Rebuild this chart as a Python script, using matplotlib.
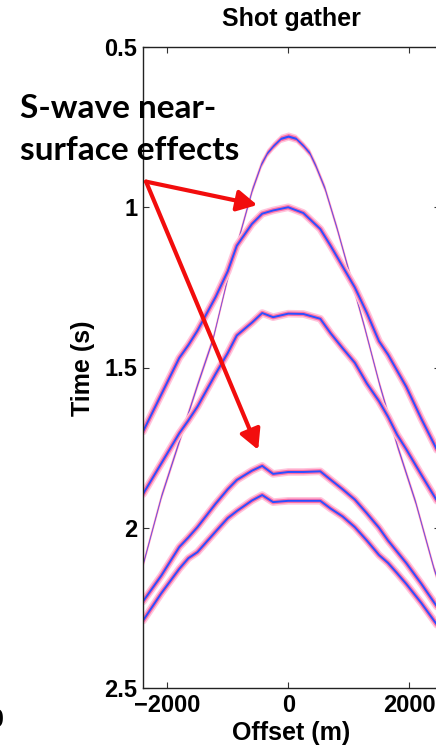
import matplotlib
matplotlib.use('Agg')
import matplotlib.pyplot as plt
from matplotlib.patches import ArrowStyle

# receiver offsets (m) shared by the S-wave reflections
offsets_s = [-2400, -2100, -1800, -1650, -1500, -1200, -1000, -850, -600, -430,
             -250, 0, 250, 530, 700, 900, 1100, 1300, 1500, 1650, 1800, 1950,
             2200, 2600]
# two-way times (s) of the four S-wave events
t_b = [1.70, 1.585, 1.47, 1.43, 1.385, 1.28, 1.20, 1.12, 1.052, 1.02,
       1.01, 1.0, 1.018, 1.068, 1.12, 1.185, 1.25, 1.33, 1.418, 1.46, 1.51,
       1.56, 1.66, 1.81]
t_c = [1.895, 1.80, 1.705, 1.665, 1.622, 1.52, 1.455, 1.40, 1.36, 1.33,
       1.343, 1.332, 1.333, 1.348, 1.393, 1.44, 1.485, 1.55, 1.605, 1.654,
       1.71, 1.755, 1.835, 1.96]
t_d = [2.23, 2.15, 2.06, 2.03, 1.998, 1.925, 1.88, 1.851, 1.822, 1.807,
       1.832, 1.826, 1.826, 1.824, 1.85, 1.88, 1.912, 1.955, 2.0, 2.04,
       2.075, 2.11, 2.175, 2.285]
t_e = [2.29, 2.205, 2.128, 2.095, 2.076, 2.012, 1.97, 1.948, 1.915, 1.898,
       1.92, 1.916, 1.916, 1.916, 1.94, 1.965, 1.998, 2.04, 2.085, 2.11,
       2.142, 2.175, 2.235, 2.34]

# steep shallow event
offsets_a = [-2400, -2100, -1800, -1500, -1250, -1000, -800, -600, -450, -350,
             -250, -125, 0, 125, 250, 350, 450, 600, 800, 1000, 1250, 1500,
             1800, 2100, 2400, 2600]
t_a = [2.11, 1.90, 1.725, 1.55, 1.41, 1.215, 1.08, 0.945, 0.865, 0.83,
       0.808, 0.785, 0.778, 0.785, 0.808, 0.83, 0.87, 0.94, 1.065, 1.20,
       1.37, 1.55, 1.745, 1.92, 2.125, 2.24]

halo_light = '#ffc4dc'
halo = '#ff6fa5'
core = '#2c4fff'
bold = dict(fontweight='bold', family='Liberation Sans')

fig = plt.figure(figsize=(4.36, 7.5), dpi=100)
W, H = 436.0, 750.0
ax = fig.add_axes([143 / W, 62 / H, 296.5 / W, 641 / H])

for t in (t_b, t_c, t_d, t_e):
    ax.plot(offsets_s, t, color=halo_light, lw=5.5, solid_capstyle='round')
for t in (t_b, t_c, t_d, t_e):
    ax.plot(offsets_s, t, color=halo, lw=3.2, solid_capstyle='round')
    ax.plot(offsets_s, t, color=core, lw=1.4)

# constant vertical thickness so the steep flanks come out thin
ax.fill_between(offsets_a, [v - 0.013 for v in t_a], [v + 0.013 for v in t_a],
                color=halo_light, lw=0)
ax.fill_between(offsets_a, [v - 0.008 for v in t_a], [v + 0.008 for v in t_a],
                color=halo, lw=0)
ax.fill_between(offsets_a, [v - 0.0035 for v in t_a], [v + 0.0035 for v in t_a],
                color=core, lw=0)

ax.set_xlim(-2400, 2500)
ax.set_ylim(2.5, 0.5)
ax.set_xticks([-2000, 0, 2000])
ax.set_yticks([0.5, 1, 1.5, 2, 2.5])
ax.set_yticklabels(['0.5', '1', '1.5', '2', '2.5'])
ax.tick_params(direction='in', length=4.5, width=0.8, top=True, right=True,
               labelsize=17, color='#333333')
ax.tick_params(axis='x', pad=4)
ax.tick_params(axis='y', pad=4)
for lab in ax.get_xticklabels() + ax.get_yticklabels():
    lab.set_fontweight('bold')
    lab.set_family('Liberation Sans')
for sp in ax.spines.values():
    sp.set_linewidth(1.0)
    sp.set_color('#222222')

fig.text(291 / W, 1 - 26 / H, 'Shot gather', ha='center', va='baseline',
         fontsize=18, **bold)
fig.text(291 / W, 1 - 733 / H, 'Offset (m)', ha='center', va='center',
         fontsize=18, **bold)
fig.text(83 / W, 1 - 368 / H, 'Time (s)', ha='center', va='center',
         rotation=90, fontsize=18, **bold)

# callout
fig.text(20 / W, 1 - 118 / H, 'S-wave near-', va='baseline', fontsize=24,
         fontweight='bold', family='Lato')
fig.text(20 / W, 1 - 160 / H, 'surface effects', va='baseline', fontsize=24,
         fontweight='bold', family='Lato')
head = ArrowStyle('-|>', head_length=0.6, head_width=0.32)
for tip in [(-512, 0.993), (-496, 1.757)]:
    ax.annotate('', xy=tip, xytext=(-2350, 0.92),
                arrowprops=dict(arrowstyle=head, color='#f20d0d', lw=3,
                                mutation_scale=20, shrinkA=0, shrinkB=0),
                annotation_clip=False)

fig.text(4 / W, 1 - 727 / H, '0', ha='right', va='baseline', fontsize=18,
         **bold)

fig.savefig('out.png', dpi=100)
